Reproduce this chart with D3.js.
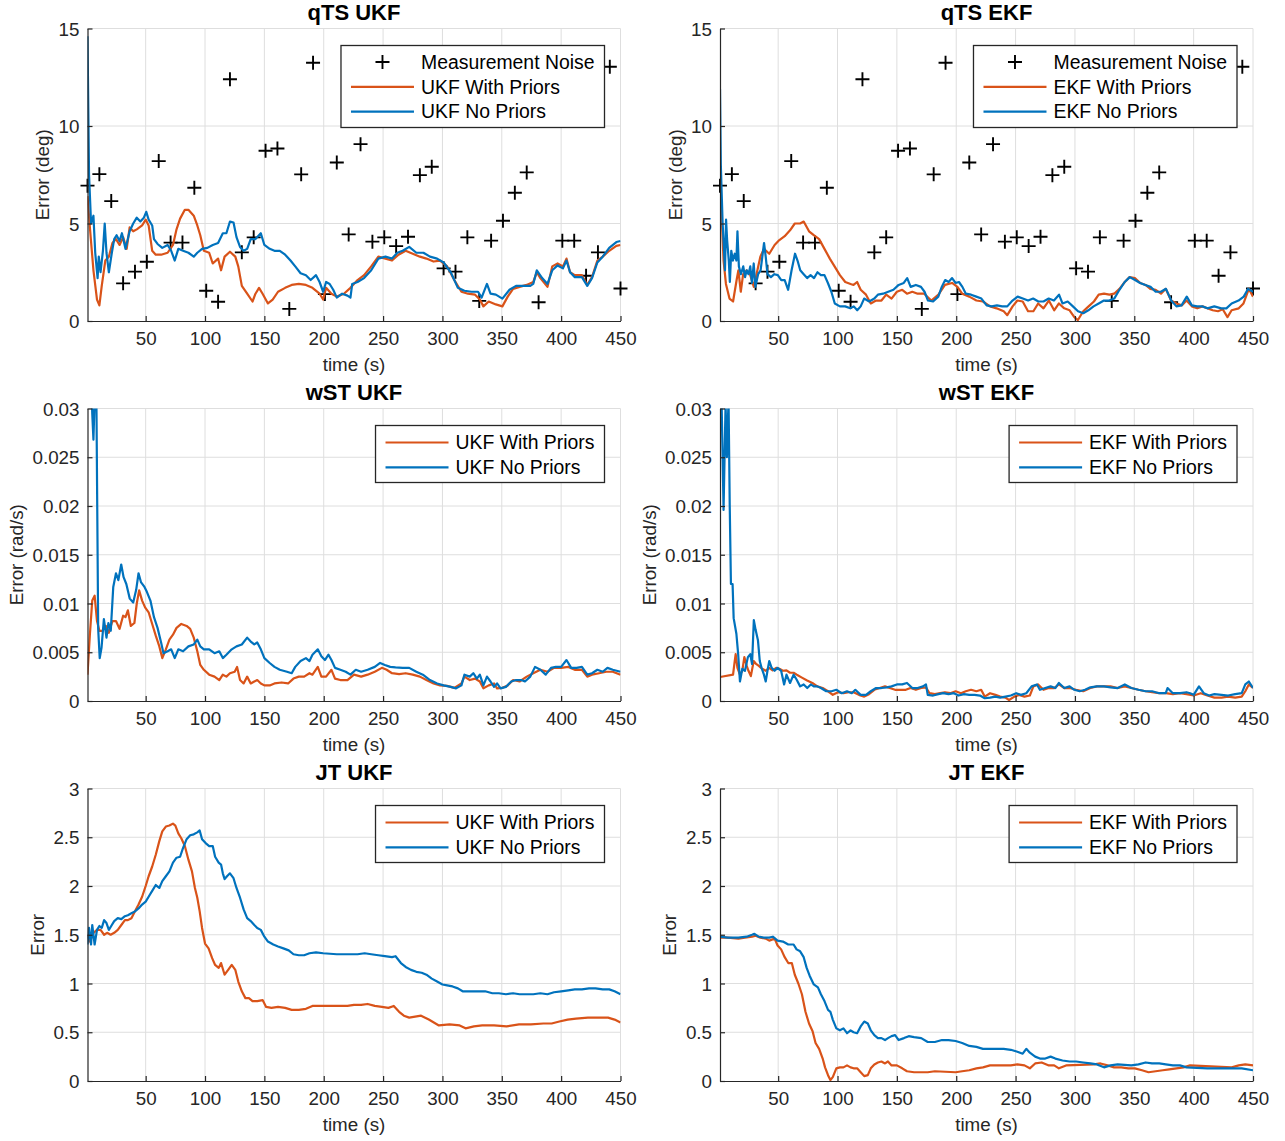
<!DOCTYPE html>
<html>
<head>
<meta charset="utf-8">
<script src="https://cdn.jsdelivr.net/npm/d3@7"></script>
<style>
  html, body { margin: 0; padding: 0; background: #ffffff; }
  svg { display: block; font-family: "Liberation Sans", Arial, Helvetica, sans-serif; }
</style>
</head>
<body>
<svg id="fig" width="1285" height="1141"></svg>
<script>
// ---------- shared axis values ----------
const timeTicks = [50, 100, 150, 200, 250, 300, 350, 400, 450];
const degTicks = [0, 5, 10, 15];
const rateTicks = [0, 0.005, 0.01, 0.015, 0.02, 0.025, 0.03];
const jtTicks = [0, 0.5, 1, 1.5, 2, 2.5, 3];

// ---------- measurement noise (deg), shared by both attitude plots ----------
const noiseTime = [1, 11, 21, 31, 41, 51, 61, 71, 81, 91, 101, 111, 121, 131, 141, 151, 161, 171, 181, 191,
  201, 211, 221, 231, 241, 251, 261, 271, 281, 291, 301, 311, 321, 331, 341, 351, 361, 371, 381, 391,
  401, 411, 421, 431, 441, 450];
const noiseDeg = [6.94, 7.53, 6.15, 1.93, 2.53, 3.04, 8.20, 4.02, 4.02, 6.83, 1.55, 0.99, 12.40, 3.52, 4.29, 8.73, 8.85, 0.62, 7.52, 13.24,
  1.38, 8.13, 4.44, 9.07, 4.07, 4.29, 3.84, 4.32, 7.48, 7.91, 2.70, 2.53, 4.29, 1.03, 4.12, 5.14, 6.58, 7.62, 0.96, 16.2,
  4.12, 4.12, 2.32, 3.52, 13.04, 1.67];

// ---------- qTS error (deg): [time, error] ----------
const qtsUkfPriors = [[1,6.4],[3,4.8],[6,2.6],[9,1.1],[11,0.8],[13,1.8],[16,3.1],[19,3.3],[22,4.0],[25,4.2],[28,3.9],[31,4.3],[34,3.7],[36.5,4.8],[39.5,4.6],[42.5,4.7],[47,4.9],[50,5.2],[52.5,4.9],[55.5,3.6],[58.5,3.4],[63,3.4],[68.5,3.5],[73,3.9],[76,4.7],[79,5.25],[83,5.7],[86,5.7],[90.5,5.4],[93.5,4.9],[96,4.4],[99,3.6],[103.5,3.5],[106.5,2.95],[111,3.2],[113.5,2.6],[116.5,3.3],[121,3.55],[125.5,3.3],[128,2.8],[131,1.8],[135.5,1.4],[140,1.0],[142.5,1.4],[145.5,1.7],[148.5,1.4],[153,0.9],[157,1.1],[161.5,1.5],[167.5,1.7],[173,1.85],[179,1.9],[185,1.85],[190.5,1.7],[196.5,1.4],[199.5,1.1],[202,1.7],[206.5,1.4],[211,1.25],[217,1.4],[222.5,1.7],[228.5,2.1],[234,2.35],[240,2.8],[246,3.3],[252,3.2],[257.5,3.1],[263,3.4],[269,3.6],[275,3.45],[281,3.3],[286.5,3.2],[292.5,3.05],[298,3.1],[304,2.8],[310,2.1],[316,1.5],[321.5,1.4],[327.5,1.35],[331.5,1.1],[334.5,0.75],[339,1.0],[345,0.85],[350.5,0.75],[355,1.25],[359.5,1.65],[365,1.75],[371,1.85],[376.5,2.0],[379.5,2.5],[382.5,2.2],[388.5,1.75],[392.5,2.8],[397,2.95],[401.5,2.8],[404.5,3.2],[407.5,2.5],[411.5,2.35],[417.5,2.35],[422,1.85],[426,2.25],[430.5,3.1],[435,3.3],[440.5,3.6],[446.5,3.85],[450,3.9]];
const qtsUkfNoPriors = [[1,14.6],[2.3,7.5],[4,5.0],[6,5.4],[7.5,3.5],[9.5,2.2],[10.5,3.3],[12,2.5],[14,3.6],[15.5,5.0],[17,3.5],[19,2.5],[21.5,3.5],[23.5,4.2],[25.5,4.4],[28,4.1],[30,4.5],[33,3.7],[36.5,4.6],[39.5,5.0],[42.5,5.3],[45.5,5.1],[48.5,5.3],[50.5,5.6],[52.5,5.2],[55.5,4.9],[57,4.2],[60,3.95],[64,3.75],[68.5,3.9],[71.5,3.6],[74.5,3.1],[77.5,3.7],[81.5,3.6],[86,3.5],[90.5,3.3],[93.5,3.5],[97.5,3.7],[102,3.75],[106.5,3.9],[111,4.0],[115,4.5],[118,4.5],[121,5.1],[124,5.05],[126.5,4.3],[129.5,3.8],[132.5,3.6],[135.5,3.7],[138.5,4.2],[142.5,4.2],[147,4.5],[150,3.9],[154.5,3.7],[158.5,3.6],[163,3.6],[167.5,3.4],[172,3.1],[176,2.8],[180.5,2.45],[185,2.35],[189,2.1],[193.5,2.35],[196.5,2.0],[199.5,1.5],[202,2.0],[205,1.9],[208,1.6],[211,1.2],[215.5,1.4],[220,1.3],[222.5,1.2],[224,1.9],[228.5,2.0],[234,2.2],[240,2.6],[246,3.2],[252,3.3],[257.5,3.2],[262,3.5],[266.5,3.6],[272,3.8],[278,3.5],[284,3.5],[289.5,3.3],[295.5,3.2],[301,3.0],[307,2.5],[313,1.7],[318.5,1.55],[324.5,1.5],[330,1.5],[333,1.2],[337.5,1.9],[340.5,1.4],[345,1.35],[350.5,1.15],[356.5,1.6],[362,1.8],[368,1.8],[374,1.8],[376.5,1.9],[379.5,2.6],[384,2.2],[388.5,1.9],[392.5,2.6],[397,2.85],[401.5,2.7],[404.5,3.1],[407.5,2.5],[411.5,2.25],[417.5,2.25],[422,1.8],[426,2.2],[430.5,3.0],[435,3.3],[440.5,3.75],[446.5,4.05],[450,4.1]];
const qtsEkfPriors = [[1,6.2],[2,6.0],[4,3.1],[6,1.9],[9,1.15],[12,1.0],[15,2.1],[16.5,2.6],[18.5,1.5],[20.5,2.4],[23.5,2.6],[26.5,2.35],[29.5,1.75],[32.5,2.6],[35,3.3],[38,3.7],[42.5,3.45],[47,3.9],[51,4.15],[55.5,4.35],[60,4.65],[64,5.0],[68.5,5.0],[71.5,5.1],[76,4.6],[80,4.4],[84.5,4.2],[89,3.7],[93.5,3.2],[97.5,2.8],[102,2.35],[106.5,2.0],[111,1.9],[113.5,1.85],[116.5,2.0],[119.5,1.6],[124,1.35],[128,0.9],[132.5,1.05],[137,1.05],[141,1.35],[145.5,1.15],[150,1.5],[154.5,1.6],[158.5,1.4],[163,1.5],[167.5,1.4],[173,1.4],[179,1.05],[185,1.35],[190.5,1.85],[196.5,1.95],[201,1.75],[205,1.4],[211,1.25],[217,1.05],[222.5,1.0],[228.5,0.75],[234,0.65],[240,0.5],[243,0.3],[247.5,0.75],[251.5,1.05],[256,1.0],[260.5,0.5],[265,0.5],[269,0.9],[273.5,0.65],[278,1.05],[282.5,0.55],[286.5,0.9],[291,0.65],[295.5,0.55],[299.5,0.2],[302.5,0.05],[307,0.5],[311.5,0.75],[316,1.0],[320,1.35],[324.5,1.4],[329,1.35],[333,1.4],[337.5,1.65],[342,2.0],[346,2.25],[350.5,2.2],[355,1.95],[359.5,1.85],[363.5,1.65],[368,1.6],[372.5,1.4],[376.5,1.65],[381,1.05],[385.5,0.9],[390,0.8],[394,1.05],[398.5,0.75],[403,0.65],[407.5,0.75],[411.5,0.65],[416,0.55],[420.5,0.5],[424.5,0.6],[428.5,0.2],[432,0.55],[438,0.65],[442,0.9],[446.5,1.65],[450,1.25]];
const qtsEkfNoPriors = [[1,11.9],[1.7,8.0],[3.2,5.0],[4.1,4.0],[5.2,2.6],[6.1,5.2],[7,4.15],[8.4,3.1],[9.3,2.0],[10.5,3.6],[11.9,3.1],[13.4,3.45],[14.8,3.1],[15.7,4.6],[16.9,2.8],[18.6,2.4],[20.6,2.8],[22.1,2.25],[23.5,2.6],[25,2.4],[26.5,2.8],[27.9,1.95],[29.4,2.95],[30.8,1.75],[33.1,2.4],[35.2,2.6],[38.1,4.0],[39.5,3.3],[41,2.4],[43.9,2.25],[46.8,2.4],[49.7,2.35],[52.6,2.1],[55.5,2.1],[58.4,1.6],[61.3,2.6],[64.2,3.45],[66.3,3.1],[68.6,2.6],[71.5,2.4],[74.4,2.2],[77.3,2.35],[80.2,2.2],[83.1,2.5],[86,2.35],[89,2.35],[91.9,1.95],[94.8,1.5],[97.7,0.9],[102,0.75],[106.4,0.75],[110.8,0.65],[113.7,0.75],[116.6,0.55],[119.5,0.75],[122.4,1.15],[126.7,1.0],[131,1.15],[134,1.35],[138.4,1.4],[142.7,1.5],[147.1,1.6],[151.5,1.85],[155.8,1.95],[158.7,2.2],[161.6,1.75],[166,1.85],[170.3,1.75],[173.3,1.5],[176.2,1.05],[180.5,1.0],[184.9,1.25],[187.8,1.75],[190.7,2.1],[193.6,2.0],[196.5,2.2],[199.4,1.95],[202.3,2.0],[205.2,1.75],[208.1,1.4],[212.5,1.35],[216.9,1.25],[221.2,1.15],[225.6,0.8],[229.9,0.75],[234.3,0.8],[238.7,0.75],[243,0.75],[247.4,1.05],[251.7,1.25],[256.1,1.15],[260.5,1.05],[264.8,1.15],[269.2,1.0],[273.5,1.0],[277.9,1.15],[282.3,1.05],[286.6,1.35],[289.5,0.9],[293.9,1.0],[298.3,0.75],[302.6,0.5],[307,0.4],[311.3,0.55],[315.7,0.75],[320,0.9],[324.4,1.05],[328.8,1.05],[333.1,1.15],[337.5,1.6],[341.9,2.0],[346.2,2.25],[350.6,2.1],[354.9,1.95],[359.3,1.85],[363.7,1.75],[368,1.5],[372.4,1.5],[376.7,1.65],[381.1,1.05],[385.5,0.75],[389.8,0.8],[394.2,1.25],[398.5,0.8],[402.9,0.75],[407.3,0.75],[411.6,0.65],[417.4,0.75],[423.3,0.65],[427.6,0.65],[432,0.9],[437.8,1.05],[442.2,1.25],[445.9,1.65],[450,1.5]];

// ---------- wST error (rad/s): [time, error] ----------
const wstUkfPriors = [[1,0.0027],[3,0.0068],[5,0.0103],[7,0.0108],[9,0.0082],[11,0.0072],[13.5,0.0072],[16.5,0.0077],[19,0.007],[22,0.0082],[25,0.0082],[28,0.0074],[31,0.00875],[33,0.0086],[35,0.0093],[37.5,0.0077],[40.5,0.008],[42.5,0.01],[44.5,0.01135],[47,0.0103],[49.5,0.0096],[52.5,0.0091],[55.5,0.0079],[58.5,0.0067],[61.5,0.0056],[64,0.0044],[67,0.0053],[70,0.0063],[73,0.0068],[76,0.0075],[80,0.0079],[84.5,0.0077],[87.5,0.0074],[90.5,0.0065],[93.5,0.0051],[96,0.0037],[99,0.0032],[103.5,0.0027],[108,0.0025],[112,0.00215],[115,0.0027],[118,0.0025],[121,0.00285],[125,0.003],[127,0.0035],[129.5,0.00215],[132.5,0.0018],[135.5,0.0025],[138.5,0.0018],[141.5,0.002],[144,0.00215],[147,0.0018],[150,0.0016],[154.5,0.0016],[158.5,0.0018],[164.5,0.0019],[170,0.0018],[174.5,0.0023],[179,0.0025],[183.5,0.0025],[188,0.00285],[190.5,0.0027],[195,0.0035],[198,0.0025],[202,0.0025],[206.5,0.0032],[209.5,0.0023],[214,0.00215],[220,0.00215],[225.5,0.0027],[231.5,0.0025],[237,0.0027],[243,0.003],[249,0.0034],[253,0.0032],[257.5,0.00285],[263.5,0.00275],[269,0.00285],[275,0.0027],[281,0.0025],[286.5,0.00215],[292.5,0.0018],[298,0.0016],[304,0.00155],[310,0.00135],[316,0.0018],[318.5,0.0025],[323,0.00215],[327.5,0.0023],[331.5,0.002],[334.5,0.0013],[339,0.0016],[343.5,0.0018],[346,0.0013],[350.5,0.00135],[355,0.0016],[359.5,0.00215],[365,0.002],[371,0.0025],[376.5,0.00285],[382.5,0.0032],[388.5,0.003],[394,0.0034],[400,0.0034],[406,0.0035],[411.5,0.0032],[417.5,0.0032],[422,0.0025],[426,0.0027],[432,0.00285],[438,0.003],[443.5,0.003],[450,0.0027]];
const wstUkfNoPriors = [[1,0.045],[4,0.034],[5,0.0295],[6,0.0268],[7,0.031],[8.5,0.031],[10,0.0074],[11.3,0.0044],[12.8,0.00545],[14.8,0.0084],[17,0.0065],[18.6,0.008],[20.6,0.0072],[22.7,0.0117],[25,0.0131],[27,0.0124],[29.4,0.014],[31.4,0.0127],[33.7,0.012],[36.6,0.0105],[39.5,0.0101],[42,0.0114],[44,0.0131],[46,0.0122],[49,0.0117],[51,0.0112],[54,0.0103],[57,0.0086],[60,0.0075],[63,0.006],[65,0.0049],[68.5,0.0051],[71.5,0.0053],[74.5,0.0044],[77.5,0.0053],[81.5,0.0051],[86,0.0056],[90.5,0.0058],[93.5,0.0063],[96,0.0056],[99,0.0053],[103.5,0.0053],[108,0.0049],[112,0.0051],[115,0.0044],[118,0.00475],[122.5,0.0053],[126.5,0.0056],[131,0.0058],[135.5,0.0065],[138.5,0.0061],[141.5,0.0058],[144,0.006],[147,0.0053],[150,0.0044],[154.5,0.0039],[158.5,0.0035],[163,0.0032],[169,0.003],[173,0.00285],[176,0.0035],[180.5,0.0041],[185,0.0044],[188,0.0041],[190.5,0.00475],[195,0.0053],[198,0.0046],[201,0.0042],[204,0.00475],[206.5,0.0042],[209.5,0.0034],[214,0.0032],[218.5,0.003],[222.5,0.0027],[227,0.0032],[231.5,0.003],[237,0.0032],[243,0.0035],[247.5,0.0039],[251.5,0.0037],[256,0.0035],[260.5,0.00345],[266.5,0.0034],[272,0.0034],[278,0.003],[283.5,0.0027],[289.5,0.00215],[295.5,0.0018],[301,0.0016],[307,0.00145],[311.5,0.0013],[316,0.0016],[318.5,0.0027],[323,0.0025],[326,0.00285],[329,0.0023],[331.5,0.0027],[334.5,0.0016],[337.5,0.0025],[340.5,0.002],[343.5,0.00145],[346,0.0018],[349,0.0013],[353.5,0.00145],[358,0.002],[362,0.00215],[366.5,0.00215],[369.5,0.002],[374,0.0025],[378,0.0035],[382.5,0.0032],[387,0.0027],[391.5,0.0034],[395.5,0.0035],[400,0.0035],[404.5,0.0042],[408.5,0.0034],[413,0.0034],[417.5,0.0035],[422,0.0027],[426,0.00285],[430.5,0.0032],[435,0.003],[439,0.0034],[443.5,0.0032],[450,0.003]];
const wstEkfPriors = [[1,0.00246],[12,0.0027],[13.4,0.0041],[14.2,0.0048],[15.7,0.0034],[17.8,0.0027],[19.8,0.0031],[21.5,0.0045],[23.5,0.0036],[25,0.0031],[27,0.00255],[29.4,0.0041],[31.4,0.0038],[33.7,0.0036],[36.6,0.0033],[39.5,0.0031],[42.4,0.0034],[45.3,0.00315],[48.3,0.0034],[51,0.0033],[54,0.0031],[57,0.00315],[60,0.0029],[63,0.0029],[65.7,0.0027],[70,0.0024],[74.4,0.0021],[78.8,0.00185],[83,0.0015],[87.5,0.00133],[92,0.001],[96,0.00063],[100.5,0.0009],[105,0.0008],[109.5,0.0009],[113.5,0.0009],[118,0.00063],[122.5,0.00045],[126.5,0.0007],[131,0.00115],[135.5,0.00133],[140,0.0015],[144,0.00133],[148.5,0.00115],[153,0.00115],[157.5,0.00115],[161.5,0.00133],[166,0.00115],[170.5,0.00133],[174.5,0.0014],[177.5,0.0008],[182,0.0007],[186.5,0.0008],[190.5,0.0009],[195,0.0008],[199.5,0.001],[204,0.0008],[208,0.001],[212.5,0.00115],[217,0.001],[221,0.00115],[224,0.00045],[228.5,0.0008],[233,0.00063],[237,0.00045],[241.5,0.00035],[244.5,0.0001],[249,0.00045],[253,0.00063],[257.5,0.00045],[262,0.00056],[265,0.0015],[269,0.0017],[273.5,0.00115],[278,0.00133],[282.5,0.00133],[286.5,0.0017],[291,0.00133],[295.5,0.00133],[301,0.00115],[307,0.001],[313,0.00133],[318.5,0.0015],[324.5,0.0015],[330,0.0015],[336,0.00133],[342,0.0015],[347.5,0.00133],[353.5,0.00115],[359.5,0.001],[365,0.0009],[371,0.0008],[376.5,0.0008],[382.5,0.0007],[388.5,0.0008],[394,0.0007],[400,0.00056],[406,0.0008],[411.5,0.00056],[417.5,0.00035],[423.5,0.00035],[429,0.00045],[435,0.00035],[440.5,0.00045],[443.5,0.001],[446.5,0.0017],[450,0.00133]];
const wstEkfNoPriors = [[1,0.033],[2.3,0.031],[4,0.0196],[5.7,0.0305],[6.8,0.025],[8.2,0.031],[9.2,0.02],[10.2,0.012],[11.6,0.012],[12.5,0.0085],[14.8,0.0069],[16.3,0.0048],[17.8,0.002],[19.8,0.0033],[22,0.0031],[24.5,0.0045],[26.5,0.0048],[28,0.0038],[29.5,0.0083],[31,0.0073],[33,0.0062],[34.5,0.0041],[36,0.0034],[38,0.0027],[39.5,0.002],[41,0.0031],[42.5,0.0041],[44.5,0.0034],[47,0.0031],[49.5,0.0034],[52.5,0.0031],[55,0.0017],[57,0.0027],[60,0.00185],[63,0.0027],[65.5,0.0022],[68.5,0.0015],[71.5,0.0017],[74.5,0.00133],[77.5,0.0017],[80,0.0015],[83,0.0015],[86,0.00133],[90.5,0.001],[95,0.001],[99,0.00115],[103.5,0.0008],[108,0.001],[112,0.0008],[115,0.00115],[119.5,0.00063],[124,0.00063],[128,0.001],[132.5,0.00133],[137,0.00133],[141.5,0.0014],[145.5,0.0015],[150,0.0017],[154.5,0.0017],[158.5,0.00185],[163,0.00133],[167.5,0.00133],[172,0.0015],[174.5,0.0017],[176,0.00063],[180.5,0.00056],[185,0.0007],[189,0.0008],[193.5,0.0007],[198,0.0008],[202,0.00056],[206.5,0.0007],[211,0.00063],[215.5,0.00063],[220,0.00056],[224,0.00028],[228.5,0.00035],[233,0.00045],[237,0.00035],[241.5,0.00045],[246,0.00056],[250.5,0.0008],[254.5,0.00063],[259,0.0008],[263.5,0.0015],[268,0.0017],[270.5,0.00115],[275,0.00133],[279.5,0.0015],[283.5,0.00133],[286.5,0.00185],[291,0.00133],[295.5,0.0015],[299.5,0.00115],[304,0.001],[308.5,0.00115],[313,0.0014],[318.5,0.0015],[324.5,0.0015],[330,0.0014],[336,0.00133],[342,0.0017],[347.5,0.00133],[353.5,0.00115],[359.5,0.001],[365,0.001],[371,0.0008],[376.5,0.0008],[378,0.00133],[382.5,0.0008],[388.5,0.0008],[394,0.0009],[397,0.0008],[400,0.00063],[404.5,0.0015],[408.5,0.0008],[413,0.00056],[417.5,0.0007],[423.5,0.00063],[429,0.00056],[435,0.0007],[440.5,0.0008],[443.5,0.0017],[446.5,0.002],[450,0.00133]];

// ---------- JT error: [time, error] ----------
const jtUkfPriors = [[1,1.5],[3,1.43],[6,1.52],[9,1.55],[12,1.55],[15,1.5],[17.5,1.52],[20.5,1.5],[23.5,1.52],[26.5,1.55],[29.5,1.6],[32.5,1.65],[35,1.65],[38,1.67],[41,1.74],[44,1.81],[47,1.89],[50,2.0],[52.5,2.1],[55.5,2.2],[58.5,2.32],[61.5,2.46],[64,2.56],[67,2.61],[70,2.62],[73,2.64],[75,2.62],[77.5,2.54],[80,2.49],[83,2.41],[86,2.27],[89,2.15],[91.5,1.98],[93.5,1.88],[95.5,1.74],[97.5,1.57],[100,1.41],[103,1.36],[106,1.26],[108.5,1.19],[111.5,1.16],[113.5,1.21],[116.5,1.09],[119.5,1.14],[122.5,1.19],[125.5,1.14],[128,1.02],[131,0.92],[134,0.85],[137,0.85],[140,0.82],[144,0.82],[148.5,0.83],[151.5,0.76],[156,0.75],[161.5,0.76],[167.5,0.75],[173,0.73],[179,0.73],[185,0.74],[190.5,0.77],[196.5,0.77],[202,0.77],[214,0.77],[220,0.77],[225.5,0.78],[231.5,0.78],[237,0.79],[243,0.77],[249,0.76],[254.5,0.75],[259,0.77],[263.5,0.71],[267.5,0.67],[272,0.65],[282,0.67],[288.5,0.63],[297,0.57],[306,0.58],[314.5,0.57],[319.5,0.54],[326.5,0.56],[333.5,0.57],[343.5,0.57],[354,0.56],[364.5,0.58],[374.5,0.58],[385,0.59],[392,0.59],[398.5,0.61],[405.5,0.63],[412.5,0.64],[422.5,0.65],[433,0.65],[439.5,0.65],[445,0.63],[450,0.6]];
const jtUkfNoPriors = [[1,1.4],[2.3,1.57],[4,1.4],[5,1.6],[7,1.4],[9,1.55],[11,1.59],[13,1.57],[15,1.65],[17,1.62],[19,1.55],[21.5,1.6],[23.5,1.64],[26.5,1.67],[29.5,1.66],[32.5,1.69],[35,1.7],[38,1.72],[41,1.74],[44,1.77],[47,1.81],[50,1.84],[52.5,1.89],[55.5,1.95],[58.5,2.01],[61.5,1.98],[64,2.05],[67,2.1],[70,2.15],[73,2.24],[76,2.29],[79,2.3],[81.5,2.39],[84.5,2.48],[87.5,2.52],[90.5,2.53],[93.5,2.55],[95.5,2.57],[97.5,2.48],[100.5,2.44],[103.5,2.41],[106.5,2.41],[108.5,2.3],[111.5,2.24],[113.5,2.22],[115,2.13],[116.5,2.07],[118.5,2.1],[121,2.13],[124,2.08],[126.5,1.98],[129.5,1.88],[132.5,1.76],[135.5,1.67],[138.5,1.64],[141.5,1.6],[144,1.57],[147,1.55],[150,1.48],[153,1.43],[157.5,1.4],[161.5,1.38],[166,1.36],[170.5,1.34],[174.5,1.3],[179,1.29],[183.5,1.29],[188,1.31],[193.5,1.32],[199.5,1.31],[211,1.3],[228.5,1.3],[234.5,1.31],[240,1.3],[246,1.29],[251.5,1.28],[257.5,1.27],[260.5,1.28],[265,1.21],[269,1.17],[273.5,1.14],[278,1.12],[282.5,1.11],[286.5,1.09],[291,1.05],[295.5,1.02],[300,0.99],[304,0.98],[308.5,0.97],[313,0.95],[317,0.92],[321.5,0.92],[330,0.92],[336,0.92],[342,0.9],[347.5,0.9],[353.5,0.89],[359.5,0.9],[365,0.89],[376.5,0.89],[382.5,0.9],[388.5,0.89],[394,0.91],[400,0.92],[406,0.93],[411.5,0.94],[417.5,0.94],[423.5,0.95],[429,0.95],[435,0.94],[440.5,0.94],[445,0.92],[450,0.89]];
const jtEkfPriors = [[1,1.47],[7.5,1.47],[16.5,1.46],[22,1.47],[28,1.48],[31,1.49],[35,1.47],[39.5,1.46],[42.5,1.44],[47,1.46],[49.5,1.39],[52.5,1.35],[55.5,1.27],[58.5,1.21],[61.5,1.21],[64,1.09],[67,1.0],[70,0.89],[73,0.71],[76,0.59],[79,0.51],[81.5,0.39],[84.5,0.33],[87.5,0.23],[89.5,0.14],[92,0.06],[94,0.01],[96,0.04],[99,0.13],[102,0.14],[105,0.14],[108,0.16],[111,0.14],[113.5,0.13],[116.5,0.13],[119.5,0.09],[122.5,0.05],[125.5,0.06],[128,0.13],[131,0.17],[134,0.19],[137,0.2],[140,0.18],[142.5,0.2],[145.5,0.16],[150,0.16],[154.5,0.13],[158.5,0.1],[164.5,0.09],[176,0.09],[182,0.1],[199.5,0.09],[205,0.1],[211,0.11],[217,0.13],[222.5,0.14],[228.5,0.16],[246,0.16],[251.5,0.17],[257.5,0.16],[262,0.13],[266.5,0.18],[272,0.19],[278,0.16],[282.5,0.16],[286.5,0.13],[292.5,0.16],[316,0.17],[321.5,0.18],[327.5,0.16],[333,0.14],[339,0.14],[345,0.13],[350.5,0.13],[356.5,0.11],[362,0.09],[368,0.1],[374,0.11],[379.5,0.12],[385.5,0.13],[391.5,0.14],[397,0.16],[432,0.14],[438,0.16],[443.5,0.17],[450,0.16]];
const jtEkfNoPriors = [[1,1.48],[7.5,1.47],[16.5,1.47],[23.5,1.48],[28,1.5],[30,1.51],[33.5,1.48],[38,1.47],[42.5,1.47],[45.5,1.48],[49.5,1.44],[54,1.43],[58.5,1.4],[63,1.4],[65.5,1.35],[68.5,1.33],[71.5,1.27],[74,1.16],[76.5,1.08],[80,0.99],[83.5,0.96],[86,0.89],[89,0.82],[92,0.73],[94,0.71],[96,0.63],[99,0.54],[102,0.52],[105,0.54],[108,0.49],[111,0.52],[113.5,0.5],[116.5,0.49],[119.5,0.56],[122.5,0.61],[125.5,0.59],[128,0.52],[131,0.47],[134,0.44],[137,0.44],[140,0.42],[142.5,0.44],[145.5,0.46],[148.5,0.47],[151.5,0.42],[156,0.44],[160,0.46],[164.5,0.45],[170.5,0.44],[176,0.4],[182,0.4],[188,0.42],[193.5,0.42],[199.5,0.41],[205,0.39],[211,0.36],[217,0.35],[222.5,0.33],[240,0.33],[246,0.32],[251.5,0.3],[256,0.28],[259,0.33],[262,0.29],[266.5,0.25],[270.5,0.23],[275,0.23],[279.5,0.25],[283.5,0.23],[289.5,0.21],[295.5,0.2],[301,0.2],[307,0.19],[313,0.18],[318.5,0.17],[324.5,0.14],[330,0.16],[336,0.17],[347.5,0.16],[353.5,0.17],[359.5,0.19],[365,0.18],[371,0.18],[376.5,0.17],[382.5,0.16],[388.5,0.16],[394,0.14],[411.5,0.13],[440.5,0.13],[450,0.11]];

// ---------- figure layout ----------
const colLeft = [87.5, 720];
const rowTop = [28.5, 408.5, 788.5];
const plotW = 533, plotH = 292.5;
const C_PRIORS = "#D95319", C_NOPRIORS = "#0072BD";
const AXIS = "#262626", GRID = "#dedede";
const FONT = 18.8, LEGEND_FONT = 19.4, TITLE_FONT = 22;

const noisePts = noiseTime.map((t, i) => [t, noiseDeg[i]]);

const panels = [
  { title: "qTS UKF", row: 0, col: 0, ylabel: "Error (deg)", yMax: 15, yTicks: degTicks, noise: true,
    priors: qtsUkfPriors, noPriors: qtsUkfNoPriors, names: ["UKF With Priors", "UKF No Priors"] },
  { title: "qTS EKF", row: 0, col: 1, ylabel: "Error (deg)", yMax: 15, yTicks: degTicks, noise: true,
    priors: qtsEkfPriors, noPriors: qtsEkfNoPriors, names: ["EKF With Priors", "EKF No Priors"] },
  { title: "wST UKF", row: 1, col: 0, ylabel: "Error (rad/s)", yMax: 0.03, yTicks: rateTicks, noise: false,
    priors: wstUkfPriors, noPriors: wstUkfNoPriors, names: ["UKF With Priors", "UKF No Priors"] },
  { title: "wST EKF", row: 1, col: 1, ylabel: "Error (rad/s)", yMax: 0.03, yTicks: rateTicks, noise: false,
    priors: wstEkfPriors, noPriors: wstEkfNoPriors, names: ["EKF With Priors", "EKF No Priors"] },
  { title: "JT UKF", row: 2, col: 0, ylabel: "Error", yMax: 3, yTicks: jtTicks, noise: false,
    priors: jtUkfPriors, noPriors: jtUkfNoPriors, names: ["UKF With Priors", "UKF No Priors"] },
  { title: "JT EKF", row: 2, col: 1, ylabel: "Error", yMax: 3, yTicks: jtTicks, noise: false,
    priors: jtEkfPriors, noPriors: jtEkfNoPriors, names: ["EKF With Priors", "EKF No Priors"] }
];

const svg = d3.select("#fig");
svg.append("rect").attr("width", 1285).attr("height", 1141).attr("fill", "#ffffff");

// plus-shaped marker path centred on (0,0)
const plusPath = (h, v) => `M${-h},0H${h}M0,${-v}V${v}`;

panels.forEach((p, idx) => {
  const g = svg.append("g")
    .attr("transform", `translate(${colLeft[p.col]},${rowTop[p.row]})`);

  const x = d3.scaleLinear().domain([1, 450]).range([0, plotW]);
  const y = d3.scaleLinear().domain([0, p.yMax]).range([plotH, 0]);

  // grid
  const grid = g.append("g").attr("stroke", GRID).attr("stroke-width", 1);
  grid.selectAll("line.v").data(timeTicks).join("line").attr("class", "v")
    .attr("x1", d => x(d)).attr("x2", d => x(d)).attr("y1", 0).attr("y2", plotH);
  grid.selectAll("line.h").data(p.yTicks.filter(d => d > 0)).join("line").attr("class", "h")
    .attr("x1", 0).attr("x2", plotW).attr("y1", d => y(d)).attr("y2", d => y(d));

  // clip region for the traces
  const clipId = "clip" + idx;
  g.append("clipPath").attr("id", clipId)
    .append("rect").attr("x", 0).attr("y", 0).attr("width", plotW).attr("height", plotH);

  const line = d3.line().x(d => x(d[0])).y(d => y(d[1]));

  if (p.noise) {
    g.append("g").selectAll("path").data(noisePts.filter(d => d[1] <= p.yMax)).join("path")
      .attr("transform", d => `translate(${x(d[0])},${y(d[1])})`)
      .attr("d", plusPath(7, 7))
      .attr("fill", "none").attr("stroke", "#000").attr("stroke-width", 1.9);
  }

  const traces = g.append("g").attr("clip-path", `url(#${clipId})`);
  traces.append("path").datum(p.priors).attr("d", line)
    .attr("fill", "none").attr("stroke", C_PRIORS).attr("stroke-width", 2.2)
    .attr("stroke-linejoin", "round");
  traces.append("path").datum(p.noPriors).attr("d", line)
    .attr("fill", "none").attr("stroke", C_NOPRIORS).attr("stroke-width", 2.2)
    .attr("stroke-linejoin", "round");

  // axes (ticks point inward)
  const xAxis = d3.axisBottom(x).tickValues(timeTicks).tickSizeInner(-5).tickSizeOuter(0)
    .tickPadding(11).tickFormat(d3.format("d"));
  const yAxis = d3.axisLeft(y).tickValues(p.yTicks).tickSizeInner(-5).tickSizeOuter(0)
    .tickPadding(8).tickFormat(d3.format("~g"));

  const gx = g.append("g").attr("transform", `translate(0,${plotH})`).call(xAxis);
  const gy = g.append("g").call(yAxis);
  [gx, gy].forEach(a => {
    a.select(".domain").attr("stroke", AXIS).attr("stroke-width", 1.2);
    a.selectAll(".tick line").attr("stroke", AXIS).attr("stroke-width", 1.2);
    a.selectAll(".tick text").attr("fill", AXIS)
      .attr("font-size", FONT).attr("font-family", "Liberation Sans, Arial, sans-serif");
  });
  gy.selectAll(".tick text").attr("dy", "0.35em");

  // widest y tick label sets the y-label offset
  let maxW = 0;
  gy.selectAll(".tick text").each(function () { maxW = Math.max(maxW, this.getBBox().width); });

  // title
  g.append("text").attr("x", plotW / 2).attr("y", -9)
    .attr("text-anchor", "middle").attr("font-size", TITLE_FONT).attr("font-weight", "bold")
    .attr("fill", "#000").text(p.title);

  // x label
  g.append("text").attr("x", plotW / 2).attr("y", plotH + 50)
    .attr("text-anchor", "middle").attr("font-size", FONT).attr("fill", AXIS).text("time (s)");

  // y label
  const ylx = -(8 + maxW + 16);
  g.append("text")
    .attr("transform", `translate(${ylx},${plotH / 2}) rotate(-90)`)
    .attr("text-anchor", "middle").attr("dy", "0.35em")
    .attr("font-size", FONT).attr("fill", AXIS).text(p.ylabel);

  // legend
  const entries = [];
  if (p.noise) entries.push({ name: "Measurement Noise", type: "marker" });
  entries.push({ name: p.names[0], type: "line", color: C_PRIORS });
  entries.push({ name: p.names[1], type: "line", color: C_NOPRIORS });

  const rowH = 24.8;
  const boxH = entries.length === 3 ? 82 : 57;
  const firstRow = entries.length === 3 ? 16.5 : 17;
  const leg = g.append("g");
  const box = leg.append("rect").attr("fill", "#fff").attr("stroke", AXIS).attr("stroke-width", 1.3);
  let textW = 0;
  entries.forEach((e, i) => {
    const ey = firstRow + i * rowH;
    if (e.type === "line") {
      leg.append("line").attr("x1", 10).attr("x2", 73).attr("y1", ey).attr("y2", ey)
        .attr("stroke", e.color).attr("stroke-width", 2.2);
    } else {
      leg.append("path").attr("transform", `translate(41.5,${ey})`).attr("d", plusPath(7, 7))
        .attr("fill", "none").attr("stroke", "#000").attr("stroke-width", 1.9);
    }
    const t = leg.append("text").attr("x", 80).attr("y", ey).attr("dy", "0.35em")
      .attr("font-size", LEGEND_FONT).attr("fill", "#000").text(e.name);
    textW = Math.max(textW, t.node().getComputedTextLength());
  });
  const boxW = 80 + textW + 10;
  box.attr("x", 0).attr("y", 0).attr("width", boxW).attr("height", boxH);
  leg.attr("transform", `translate(${plotW - 16 - boxW},17)`);
});
</script>
</body>
</html>
